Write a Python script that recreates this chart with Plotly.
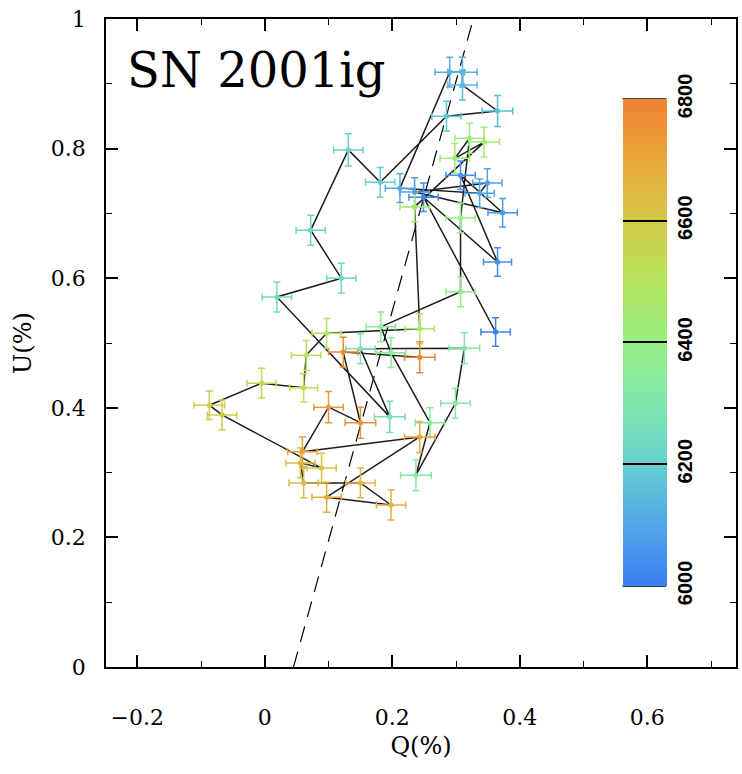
import plotly.graph_objects as go
from plotly.colors import sample_colorscale

# Wavelength-ordered polarization data (Q, U in %), wavelength in Angstrom
wavelength = [6010, 6025, 6040, 6055, 6065, 6075, 6085, 6095, 6105, 6120,
              6130, 6140, 6155, 6170, 6190, 6205, 6220, 6235, 6245, 6265,
              6285, 6310, 6320, 6330, 6340, 6350, 6365, 6380, 6395, 6410,
              6425, 6440, 6455, 6470, 6495, 6515, 6530, 6545, 6570, 6590,
              6615, 6635, 6645, 6660, 6675, 6690, 6705, 6720, 6740, 6755,
              6775, 6790]
q_vals = [0.362, 0.249, 0.365, 0.307, 0.373, 0.235, 0.349, 0.337, 0.212, 0.290,
          0.310, 0.310, 0.365, 0.285, 0.181, 0.131, 0.072, 0.120, 0.019, 0.196,
          0.150, 0.313, 0.299, 0.237, 0.259, 0.198, 0.182, 0.307, 0.307, 0.321,
          0.298, 0.344, 0.235, 0.243, 0.097, 0.065, 0.061, -0.005, -0.087, -0.067,
          0.089, 0.056, 0.061, 0.150, 0.198, 0.097, 0.243, 0.059, 0.100, 0.150,
          0.123, 0.243]
u_vals = [0.517, 0.725, 0.625, 0.759, 0.701, 0.733, 0.747, 0.731, 0.739, 0.918,
          0.918, 0.898, 0.858, 0.850, 0.748, 0.798, 0.674, 0.600, 0.571, 0.386,
          0.491, 0.492, 0.407, 0.296, 0.377, 0.485, 0.525, 0.579, 0.693, 0.816,
          0.785, 0.810, 0.710, 0.522, 0.515, 0.481, 0.431, 0.438, 0.404, 0.389,
          0.307, 0.315, 0.284, 0.284, 0.250, 0.262, 0.355, 0.332, 0.401, 0.377,
          0.486, 0.478]
q_err = [0.023, 0.023, 0.022, 0.023, 0.023, 0.023, 0.023, 0.023, 0.023, 0.023,
         0.023, 0.023, 0.024, 0.023, 0.023, 0.023, 0.023, 0.023, 0.023, 0.024,
         0.023, 0.024, 0.023, 0.024, 0.023, 0.023, 0.023, 0.023, 0.023, 0.023,
         0.023, 0.024, 0.023, 0.023, 0.023, 0.023, 0.022, 0.023, 0.024, 0.023,
         0.023, 0.023, 0.023, 0.023, 0.023, 0.023, 0.024, 0.023, 0.023, 0.024,
         0.023, 0.024]
u_err = [0.022, 0.022, 0.022, 0.022, 0.022, 0.022, 0.022, 0.022, 0.022, 0.023,
         0.023, 0.023, 0.024, 0.023, 0.023, 0.025, 0.023, 0.023, 0.023, 0.024,
         0.023, 0.024, 0.023, 0.024, 0.023, 0.023, 0.023, 0.023, 0.023, 0.023,
         0.023, 0.023, 0.023, 0.023, 0.023, 0.023, 0.022, 0.023, 0.022, 0.023,
         0.023, 0.023, 0.023, 0.023, 0.023, 0.023, 0.024, 0.023, 0.024, 0.024,
         0.023, 0.024]

# dominant-axis (dashed) line endpoints
axis_q = [0.045, 0.327]
axis_u = [0.0, 1.0]

cbar_ticks = [6000, 6200, 6400, 6600, 6800]
wl_min, wl_max = 6000, 6800

colorscale = [
    [0.0, "rgb(58,126,240)"],
    [0.125, "rgb(82,166,234)"],
    [0.25, "rgb(102,207,207)"],
    [0.375, "rgb(128,230,172)"],
    [0.5, "rgb(152,238,132)"],
    [0.625, "rgb(180,228,92)"],
    [0.75, "rgb(212,200,72)"],
    [0.875, "rgb(234,168,58)"],
    [1.0, "rgb(240,128,50)"],
]

colors = sample_colorscale(colorscale, [(w - wl_min) / (wl_max - wl_min) for w in wavelength])

# colorbar geometry (paper fractions)
cb_x0 = 0.820
cb_thick = 44
cb_len = 487
plot_w = 742 - 106 - 2
plot_h = 774 - 19 - 107
cb_x1 = cb_x0 + cb_thick / plot_w
cb_yc = 0.5008
cb_y0 = cb_yc - cb_len / 2 / plot_h
cb_y1 = cb_yc + cb_len / 2 / plot_h

fig = go.Figure()

fig.add_trace(go.Scatter(x=axis_q, y=axis_u, mode="lines",
                         line=dict(color="black", width=1.2, dash="16px,10px"),
                         showlegend=False, hoverinfo="skip"))

fig.add_trace(go.Scatter(x=q_vals, y=u_vals, mode="lines",
                         line=dict(color="#1c1c1c", width=1.5),
                         showlegend=False, hoverinfo="skip"))

for qi, ui, qe, ue, c in zip(q_vals, u_vals, q_err, u_err, colors):
    fig.add_trace(go.Scatter(
        x=[qi], y=[ui], mode="markers",
        marker=dict(size=5, color=c),
        error_x=dict(type="data", array=[qe], color=c, thickness=1.5, width=3.5),
        error_y=dict(type="data", array=[ue], color=c, thickness=1.5, width=3.5),
        showlegend=False, hoverinfo="skip"))

fig.add_trace(go.Scatter(
    x=q_vals, y=u_vals, mode="markers",
    marker=dict(size=5, color=wavelength, colorscale=colorscale,
                cmin=wl_min, cmax=wl_max, showscale=True,
                colorbar=dict(
                    x=cb_x0, xanchor="left", y=cb_yc, yanchor="middle",
                    len=cb_len, lenmode="pixels", thickness=cb_thick,
                    thicknessmode="pixels", outlinewidth=0, xpad=0, ypad=0,
                    tickvals=cbar_ticks, ticks="inside", ticklen=cb_thick,
                    tickcolor="black", tickwidth=1.5, tickangle=-90,
                    tickfont=dict(family="Liberation Sans", size=20,
                                  color="black", weight="bold"))),
    showlegend=False))

axis_common = dict(
    showline=True, linecolor="black", linewidth=1.5, mirror="ticks",
    ticks="inside", ticklen=12, tickwidth=1.5, tickcolor="black",
    dtick=0.2, tick0=0, showgrid=False, zeroline=False,
    minor=dict(dtick=0.1, ticks="inside", ticklen=6, tickwidth=1.2,
               tickcolor="black", showgrid=False),
    tickfont=dict(family="DejaVu Serif", size=22, color="black"),
)

fig.update_layout(
    width=742, height=774,
    margin=dict(l=106, r=2, t=19, b=107),
    plot_bgcolor="white", paper_bgcolor="white",
    xaxis=dict(range=[-0.249, 0.739], ticklabelstandoff=30,
               title=dict(text="Q(%)", standoff=8,
                          font=dict(family="DejaVu Serif", size=24, color="black")),
               **axis_common),
    yaxis=dict(range=[0, 1], ticklabelstandoff=14,
               title=dict(text="U(%)", standoff=12,
                          font=dict(family="DejaVu Serif", size=24, color="black")),
               **axis_common),
    shapes=[
        dict(type="line", xref="paper", yref="paper", x0=cb_x0, x1=cb_x1,
             y0=cb_y0, y1=cb_y0, line=dict(color="black", width=1.5)),
        dict(type="line", xref="paper", yref="paper", x0=cb_x0, x1=cb_x1,
             y0=cb_y1, y1=cb_y1, line=dict(color="black", width=1.5)),
    ],
    annotations=[dict(text="SN 2001ig", x=0.0300, y=0.922, xref="paper", yref="paper",
                      xanchor="left", yanchor="middle", showarrow=False,
                      font=dict(family="DejaVu Serif", size=48, color="black"))],
)

fig.write_html("out.html")
